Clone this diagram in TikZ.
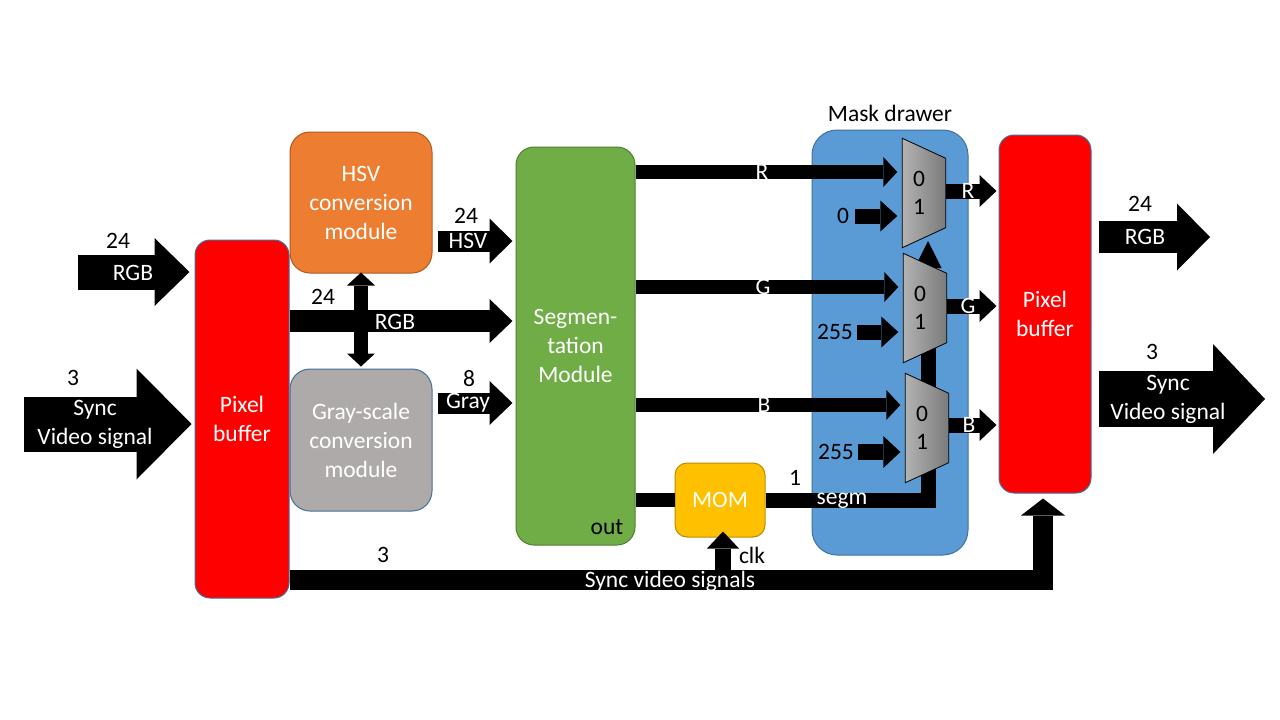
\documentclass[tikz,border=0pt]{standalone}
\usepackage{fontspec}
\setmainfont{Carlito}
\usetikzlibrary{arrows.meta,calc}
\definecolor{pbRed}{HTML}{FF0000}
\definecolor{boxLine}{HTML}{41719C}
\definecolor{hsvOrange}{HTML}{ED7D31}
\definecolor{hsvLine}{HTML}{AE5A21}
\definecolor{grayBox}{HTML}{AEAAAA}
\definecolor{segGreen}{HTML}{70AD47}
\definecolor{segLine}{HTML}{507E32}
\definecolor{momGold}{HTML}{FFC000}
\definecolor{momLine}{HTML}{BC8C00}
\definecolor{maskBlue}{HTML}{5B9BD5}
\tikzset{
  block/.style 2 args={draw=boxLine, line width=1pt, text=white, align=center,
    inner sep=0pt, minimum width=#1pt, minimum height=#2pt},
  fat/.style n args={3}{line width=#1pt,
    -{Triangle[length=#2pt, width=#3pt, line width=0pt]}},
  num/.style={inner sep=0pt, align=center},
  sig/.style={inner sep=0pt, align=center, text=white},
  muxbox/.style={inner sep=0pt, minimum width=43pt, minimum height=109pt},
}
\begin{document}
\begin{tikzpicture}[x=1pt, y=-1pt, font=\fontsize{23.5}{29}\selectfont]
  \fill[white] (0,0) rectangle (1280,720);
  \useasboundingbox (0,0) rectangle (1280,720);

  % blocks
  \node[block={94}{358}, fill=pbRed, rounded corners=15pt] (pbL) at (242,419) {Pixel\\buffer};
  \node[block={142}{141}, fill=hsvOrange, draw=hsvLine, rounded corners=20pt] (hsv) at (361,202.5) {HSV\\conversion\\module};
  \node[block={142}{142}, fill=grayBox, rounded corners=20pt] (gray) at (361,440) {Gray-scale\\conversion\\module};
  \node[block={119}{398}, fill=segGreen, draw=segLine, rounded corners=18pt] (seg) at (575.5,346) {Segmen-\\tation\\Module};
  \node[block={90}{74}, fill=momGold, draw=momLine, rounded corners=12pt] (mom) at (720,500) {MOM};
  \node[block={156}{425}, fill=maskBlue, rounded corners=25pt] (mask) at (890,342.5) {};
  \node[block={92}{358}, fill=pbRed, rounded corners=15pt] (pbR) at (1045,314) {Pixel\\buffer};
  \node[num] (maskT) at (890,113) {Mask drawer};
  \node[num] (segOut) at (607,527) {out};

  % multiplexers (outline drawn later)
  \foreach \m/\cx/\cy in {m1/924/193, m2/925/308, m3/927/428}
    \node[muxbox] (\m) at (\cx,\cy) {};

  % inputs
  \coordinate (inRGB) at (78,272);
  \coordinate (inSync) at (24,424);
  \draw[fat={35}{35}{68}, shorten >=5pt] (inRGB) -- (pbL.west |- inRGB);
  \draw[fat={55}{55}{111}, shorten >=3pt] (inSync) -- (pbL.west |- inSync);

  % conversion paths
  \draw[fat={22}{23}{44}, shorten >=3pt] (pbL.east |- 0,321) -- (seg.west |- 0,321);
  \draw[{Triangle[length=13pt, width=28pt, line width=0pt]}-{Triangle[length=13pt, width=28pt, line width=0pt]},
    line width=14pt, shorten <=-1pt, shorten >=2pt] (hsv.south) -- (gray.north);
  \draw[fat={21}{23}{45}, shorten <=5pt, shorten >=3pt] (hsv.east |- 0,241) -- (seg.west |- 0,241);
  \draw[fat={21}{23}{44}, shorten <=5pt, shorten >=3pt] (gray.east |- 0,403) -- (seg.west |- 0,403);

  % colour channels to the mask drawer
  \foreach \y/\m in {172/m1, 287/m2, 405/m3}
    \draw[fat={14}{14}{30}, shorten >=5pt] (seg.east |- 0,\y) -- (\m.west |- 0,\y);

  % segmentation output
  \coordinate (sel) at (928,241);
  \draw[line width=14pt] (seg.east |- mom.west) -- (mom.west);
  \draw[fat={15}{27}{27}] (mom.east) -| (sel);

  % constants
  \node[num] (c0) at (843,216) {0};
  \node[num] (c255a) at (835,332) {255};
  \node[num] (c255b) at (836,452) {255};
  \draw[fat={15}{17}{31}, shorten <=6pt, shorten >=5pt] (c0.east) -- (m1.west |- c0.east);
  \draw[fat={15}{17}{31}, shorten <=4pt, shorten >=5pt] (c255a.east) -- (m2.west |- c255a.east);
  \draw[fat={16}{17}{32}, shorten <=4pt, shorten >=5pt] (c255b.east) -- (m3.west |- c255b.east);

  % multiplexer bodies
  \foreach \m in {m1, m2, m3} {
    \draw[left color=black!30, right color=black!52, line width=0.8pt]
      (\m.north west) -- ([yshift=-20pt]\m.north east)
      -- ([yshift=20pt]\m.south east) -- (\m.south west) -- cycle;
    \node[num] (\m-zero) at ([xshift=-5pt, yshift=14pt]\m.center) {0};
    \node[num] (\m-one) at ([xshift=-5pt, yshift=-14pt]\m.center) {1};
  }

  % masked channels to the output buffer
  \foreach \y/\m in {191/m1, 306/m2, 425/m3}
    \draw[fat={15}{17}{32}, shorten >=2pt] (\m.east |- 0,\y) -- (pbR.west |- 0,\y);

  % sync bus and clock
  \coordinate (clkB) at (723,580);
  \draw[fat={20}{17}{44}, shorten >=5pt] (pbL.east |- 0,580) -| ([xshift=-2pt]pbR.south);
  \draw[fat={16}{17}{32}, shorten >=-6pt] (clkB) -- (clkB |- mom.south);

  % outputs
  \coordinate (outRGB) at (1210,237);
  \coordinate (outSync) at (1265,399);
  \draw[fat={32}{33}{67}, shorten <=7pt] (pbR.east |- outRGB) -- (outRGB);
  \draw[fat={56}{52}{110}, shorten <=7pt] (pbR.east |- outSync) -- (outSync);

  % widths and names
  \node[num] (wInRGB) at (118,241) {24};
  \node[sig] (nInRGB) at (133,273) {RGB};
  \node[num] (wInSync) at (73,378) {3};
  \node[sig] (nInSync) at (95,424) {Sync\\Video signal};
  \node[num] (wRGB) at (323,297) {24};
  \node[sig] (nRGB) at (395,322) {RGB};
  \node[num] (wHSV) at (466,216) {24};
  \node[sig] (nHSV) at (468,241) {HSV};
  \node[num] (wGray) at (469,379) {8};
  \node[sig] (nGray) at (468,403) {Gray};
  \node[sig] (nR) at (762,172) {R};
  \node[sig] (nG) at (763,287) {G};
  \node[sig] (nB) at (764,405) {B};
  \node[sig] (oR) at (968,191) {R};
  \node[sig] (oG) at (968,306) {G};
  \node[sig] (oB) at (969,425) {B};
  \node[num] (wSegm) at (795,478) {1};
  \node[sig] (nSegm) at (842,501) {segm};
  \node[num] (wBus) at (383,555) {3};
  \node[sig] (nBus) at (670,581) {Sync video signals};
  \node[num] (nClk) at (752,555) {clk};
  \node[num] (wOutRGB) at (1140,204) {24};
  \node[sig] (nOutRGB) at (1145,237) {RGB};
  \node[num] (wOutSync) at (1152,352) {3};
  \node[sig] (nOutSync) at (1168,399) {Sync\\Video signal};
\end{tikzpicture}
\end{document}
